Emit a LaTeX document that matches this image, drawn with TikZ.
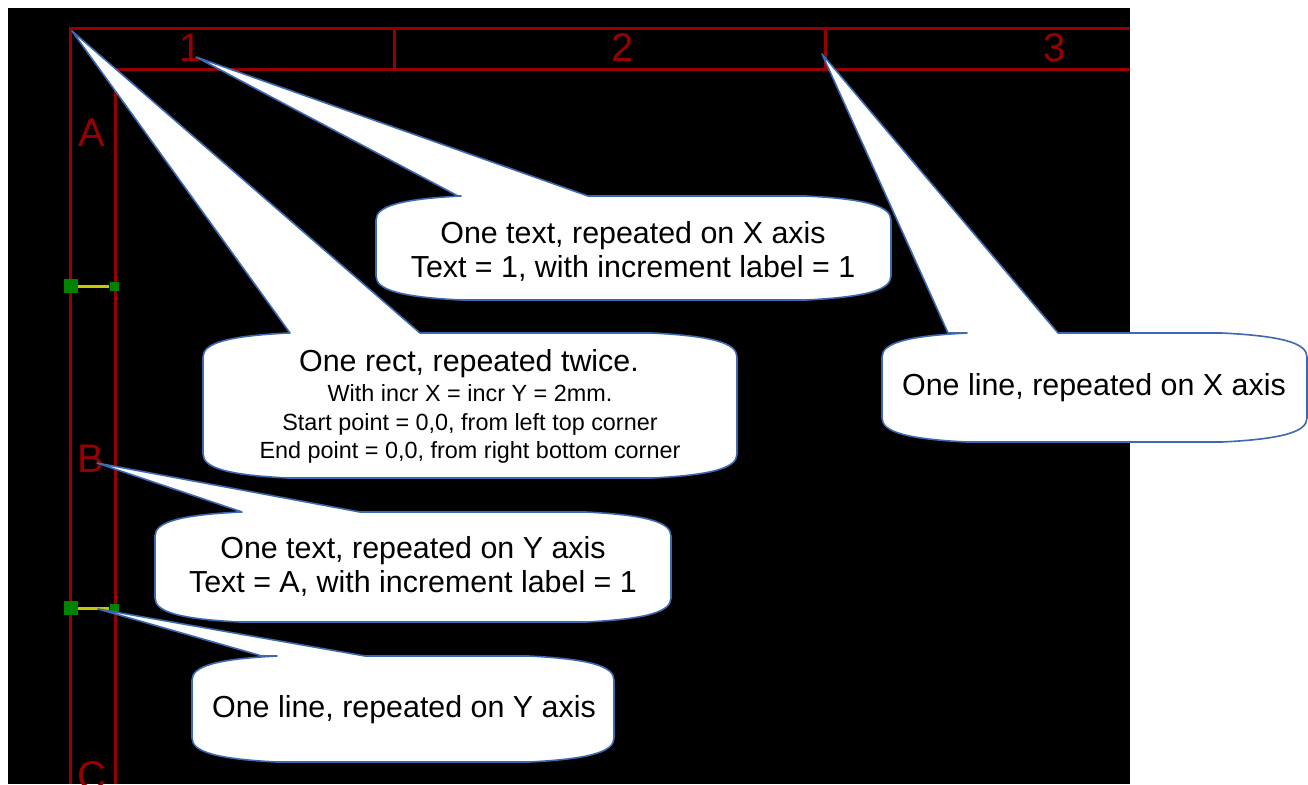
\documentclass[tikz,border=0pt]{standalone}
\usepackage{fontspec}
\setmainfont{Liberation Sans}
\usetikzlibrary{positioning}
\definecolor{pcbred}{RGB}{150,0,0}
\definecolor{selgreen}{RGB}{0,132,0}
\definecolor{selyellow}{RGB}{200,200,0}
\definecolor{bubblue}{RGB}{60,105,175}
\tikzset{
	framelin/.style={pcbred, line width=1.5pt},
	framelbl/.style={text=pcbred, font=\fontsize{20}{20}\selectfont, inner sep=0pt},
	bubble/.style={draw=bubblue, fill=white, line width=0.8pt, line join=round},
	bubtext/.style={align=center, font=\fontsize{15.2}{17}\selectfont, inner sep=0pt},
	subtext/.style={align=center, font=\fontsize{11.7}{14.3}\selectfont, inner sep=0pt},
	selline/.style={selyellow, line width=1.5pt},
	endbig/.style={fill=selgreen, minimum size=7pt, inner sep=0pt},
	endsmall/.style={fill=selgreen, minimum size=4.5pt, inner sep=0pt},
}
% callout: left, top, right, bottom, tail base x1, tail base x2, tip
\newcommand{\callout}[7]{%
	\draw[bubble] (#1,#2+24) .. controls (#1,#2+10) and (#1+25,#2+3) .. (#1+85,#2)
		-- (#5,#2) -- (#7) -- (#6,#2) -- (#3-85,#2)
		.. controls (#3-25,#2+3) and (#3,#2+10) .. (#3,#2+24)
		-- (#3,#4-24) .. controls (#3,#4-10) and (#3-25,#4-3) .. (#3-85,#4)
		-- (#1+85,#4) .. controls (#1+25,#4-3) and (#1,#4-10) .. (#1,#4-24) -- cycle;
}

\begin{document}
\begin{tikzpicture}[x=0.5pt, y=-0.5pt]
	\useasboundingbox (0,0) rectangle (1308,784);
	\fill[white] (0,0) rectangle (1308,784);
	\fill[black] (8,8) rectangle (1130,784);
	% page frame
	\draw[framelin] (1130,28) -- (70,28) -- (70,784);
	\draw[framelin] (1130,69) -- (115,69) -- (115,784);
	\draw[framelin] (394,28) -- (394,69);
	\draw[framelin] (825,28) -- (825,69);
	\node[framelbl] (col1) at (191,48) {1};
	\node[framelbl] (col2) at (623,48) {2};
	\node[framelbl] (col3) at (1055,48) {3};
	\node[framelbl] (rowA) at (92,133) {A};
	\node[framelbl] (rowB) at (91,459) {B};
	\node[framelbl] (rowC) at (92,776) {C};
	% selected tick lines
	\node[endbig] (ya1) at (71,286) {};
	\node[endsmall] (yb1) at (114,286) {};
	\draw[selline] (ya1) -- (yb1);
	\node[endbig] (ya2) at (71,608) {};
	\node[endsmall] (yb2) at (114,608) {};
	\draw[selline] (ya2) -- (yb2);
	% callout tips
	\coordinate (tipxtext) at (196,57);
	\coordinate (tipxline) at (822,54);
	\coordinate (tiprect) at (72,31);
	\coordinate (tipytext) at (97,463);
	\coordinate (tipyline) at (98,609);
	% callouts
	\callout{376}{196}{891}{300}{458}{588}{tipxtext}
	\callout{882}{333}{1307}{442}{948}{1058}{tipxline}
	\callout{203}{333}{737}{478}{290}{420}{tiprect}
	\callout{155}{512}{671}{622}{242}{360}{tipytext}
	\callout{192}{656}{614}{762}{262}{365}{tipyline}
	\node[bubtext] (xtext) at (633,251) {One text, repeated on X axis\\Text = 1, with increment label = 1};
	\node[bubtext] (xline) at (1094,388) {One line, repeated on X axis};
	\node[bubtext] (recttitle) at (469,364) {One rect, repeated twice.};
	\node[subtext] (rectinfo) at (470,424) {With incr X = incr Y = 2mm.\\Start point = 0,0, from left top corner\\End point = 0,0, from right bottom corner};
	\node[bubtext] (ytext) at (413,566) {One text, repeated on Y axis\\Text = A, with increment label = 1};
	\node[bubtext] (yline) at (404,710) {One line, repeated on Y axis};
\end{tikzpicture}
\end{document}
